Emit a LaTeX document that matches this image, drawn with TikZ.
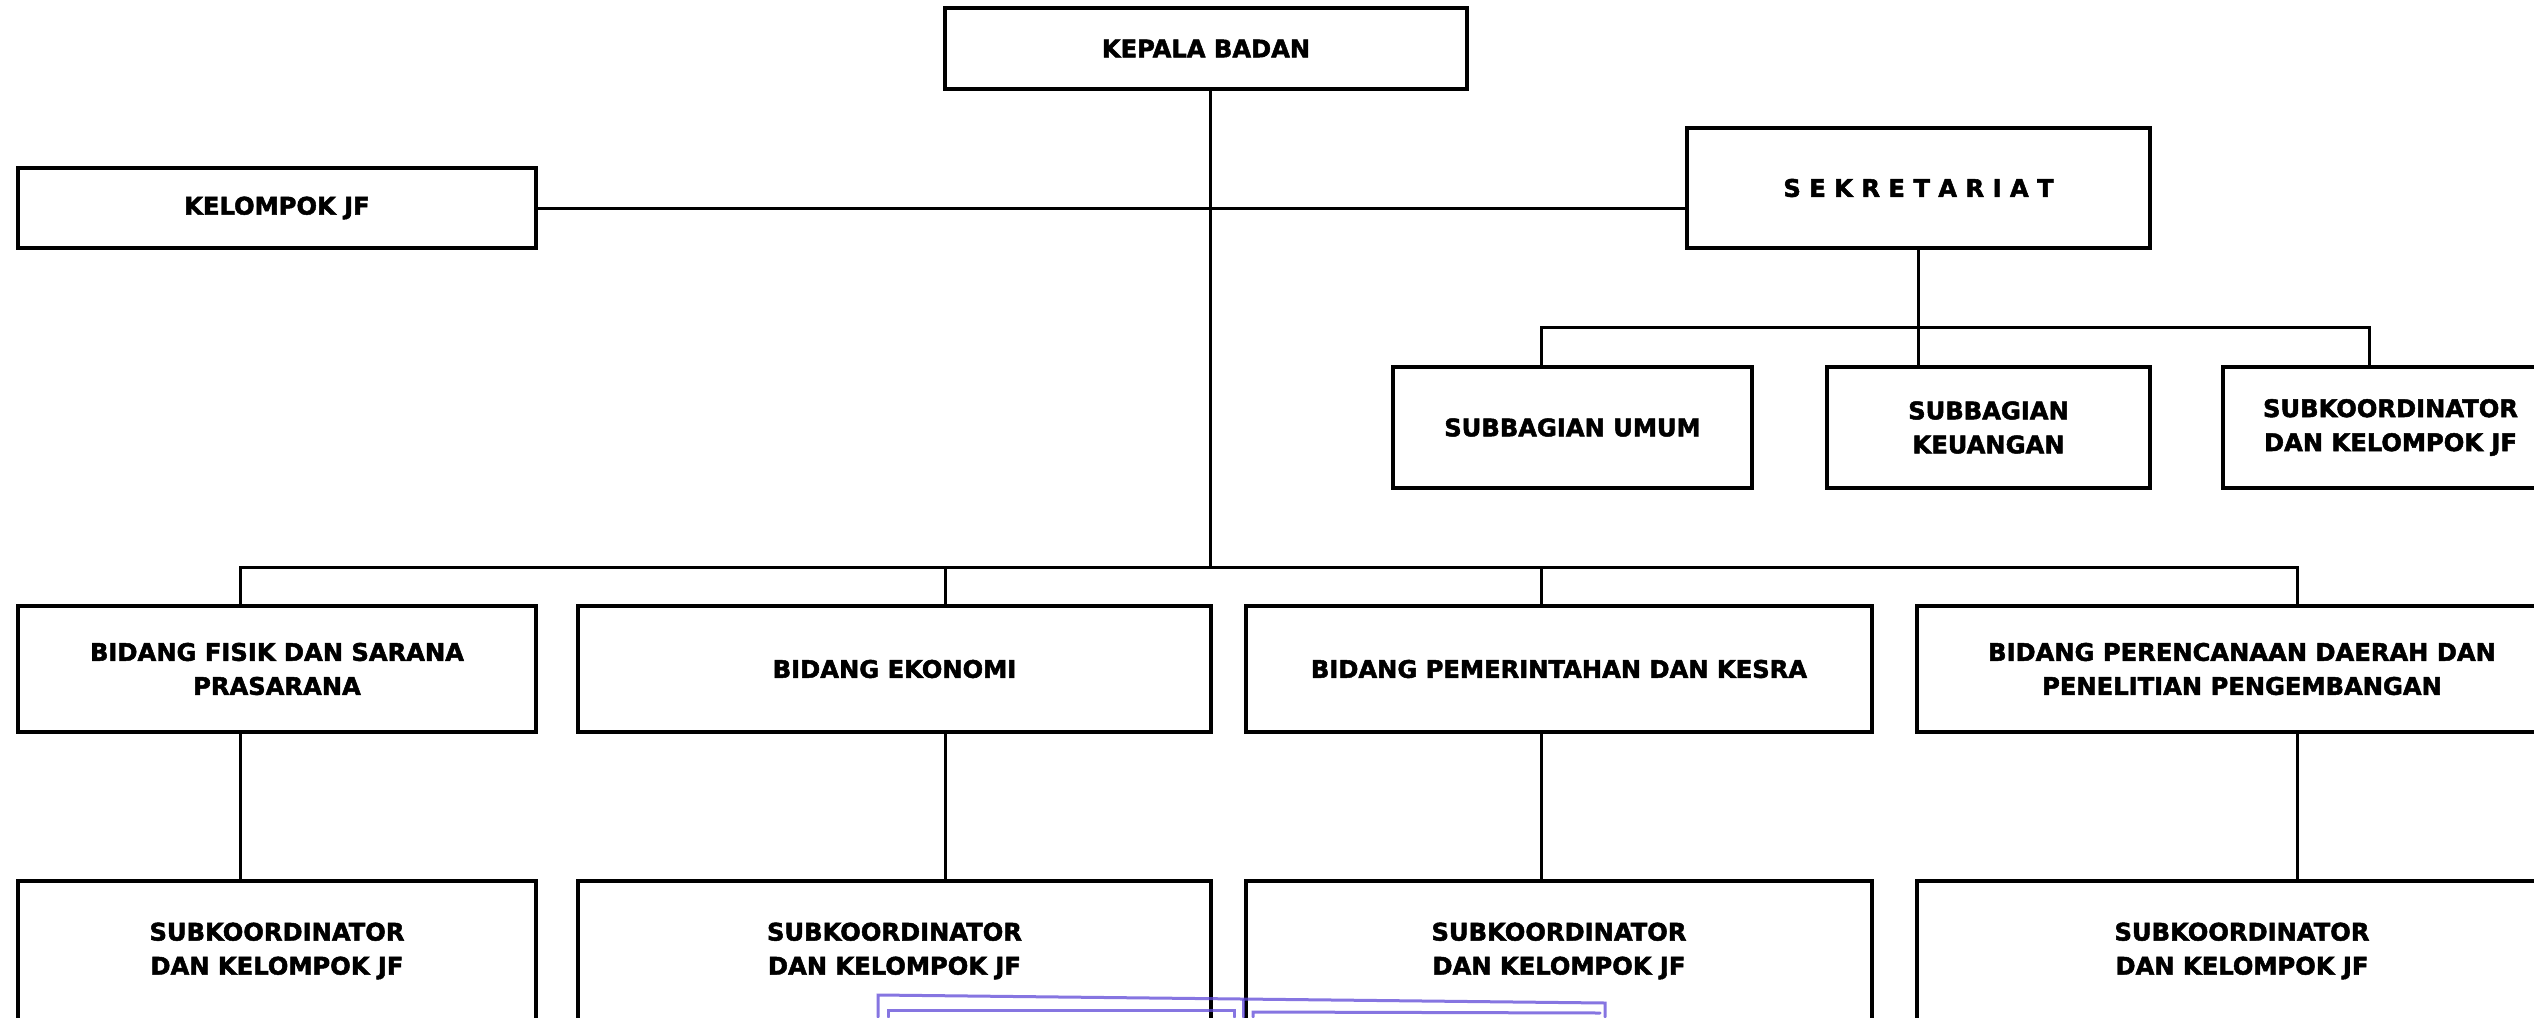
\documentclass[tikz,border=0pt]{standalone}
\usepackage{fontspec}
\setmainfont{DejaVu Sans}[BoldFeatures={FakeBold=2}]
\definecolor{stampc}{HTML}{5E48D8}
\begin{document}
\begin{tikzpicture}[x=1pt,y=-1pt,
  box/.style={draw, line width=3.4pt, outer sep=0pt, inner sep=0pt, align=center, anchor=north west,
    font=\fontsize{24.2}{34}\selectfont\bfseries},
  link/.style={line width=3pt},
  stampline/.style={line width=3pt, draw=stampc, opacity=0.75, line cap=round}]
\useasboundingbox (0,0) rectangle (2534,1017);
\clip (0,0) rectangle (2534,1017);
\fill[white] (0,0) rectangle (2534,1017);
% top level
\node[box, minimum width=522pt, minimum height=81pt] (kepala) at (945,8) {KEPALA BADAN};
\node[box, minimum width=518pt, minimum height=80pt] (kjf) at (18,168) {KELOMPOK JF};
\node[box, minimum width=463pt, minimum height=120pt] (sek) at (1687,128) {S E K R E T A R I A T};
% sekretariat children
\node[box, minimum width=359pt, minimum height=121pt] (umum) at (1393,367) {SUBBAGIAN UMUM};
\node[box, minimum width=323pt, minimum height=121pt] (keu) at (1827,367) {SUBBAGIAN\\KEUANGAN};
\node[box, minimum width=335pt, minimum height=121pt] (subk0) at (2223,367) {SUBKOORDINATOR\\DAN KELOMPOK JF};
% bidang
\node[box, minimum width=518pt, minimum height=126pt] (fisik) at (18,606) {BIDANG FISIK DAN SARANA\\PRASARANA};
\node[box, minimum width=633pt, minimum height=126pt] (ekonomi) at (578,606) {BIDANG EKONOMI};
\node[box, minimum width=626pt, minimum height=126pt] (pem) at (1246,606) {BIDANG PEMERINTAHAN DAN KESRA};
\node[box, minimum width=650pt, minimum height=126pt] (pren) at (1917,606) {BIDANG PERENCANAAN DAERAH DAN\\PENELITIAN PENGEMBANGAN};
% subkoordinator row
\node[box, minimum width=518pt, minimum height=140pt] (sub1) at (18,881) {SUBKOORDINATOR\\DAN KELOMPOK JF};
\node[box, minimum width=633pt, minimum height=140pt] (sub2) at (578,881) {SUBKOORDINATOR\\DAN KELOMPOK JF};
\node[box, minimum width=626pt, minimum height=140pt] (sub3) at (1246,881) {SUBKOORDINATOR\\DAN KELOMPOK JF};
\node[box, minimum width=650pt, minimum height=140pt] (sub4) at (1917,881) {SUBKOORDINATOR\\DAN KELOMPOK JF};
% connector coordinates
\coordinate (spine) at (1210,567);
\coordinate (sbar) at (1918,327);
\coordinate (u1) at (1541,327);
\coordinate (u3) at (2369,327);
\coordinate (b1) at (240,567);
\coordinate (b2) at (945,567);
\coordinate (b3) at (1541,567);
\coordinate (b4) at (2297,567);
% connectors
\draw[link] (kepala.south -| spine) -- (spine);
\draw[link] (kjf.east) -- (kjf.east -| sek.west);
\draw[link] (sek.south -| sbar) -- (sbar);
\draw[link] (umum.north -| u1) -- (u1) -- (u3) -- (subk0.north -| u3);
\draw[link] (sbar) -- (keu.north -| sbar);
\draw[link] (fisik.north -| b1) -- (b1) -- (b4) -- (pren.north -| b4);
\draw[link] (b2) -- (ekonomi.north -| b2);
\draw[link] (b3) -- (pem.north -| b3);
\draw[link] (fisik.south -| b1) -- (sub1.north -| b1);
\draw[link] (ekonomi.south -| b2) -- (sub2.north -| b2);
\draw[link] (pem.south -| b3) -- (sub3.north -| b3);
\draw[link] (pren.south -| b4) -- (sub4.north -| b4);
% stamp fragment
\draw[stampline] (878,1017) -- (878,995) -- (1605,1003) -- (1605,1017);
\draw[stampline] (888,1017) -- (888,1010) -- (1234,1010) -- (1234,1017);
\draw[stampline] (1243,1000) -- (1243,1017);
\draw[stampline] (1253,1017) -- (1253,1012) -- (1600,1013);
\end{tikzpicture}
\end{document}
